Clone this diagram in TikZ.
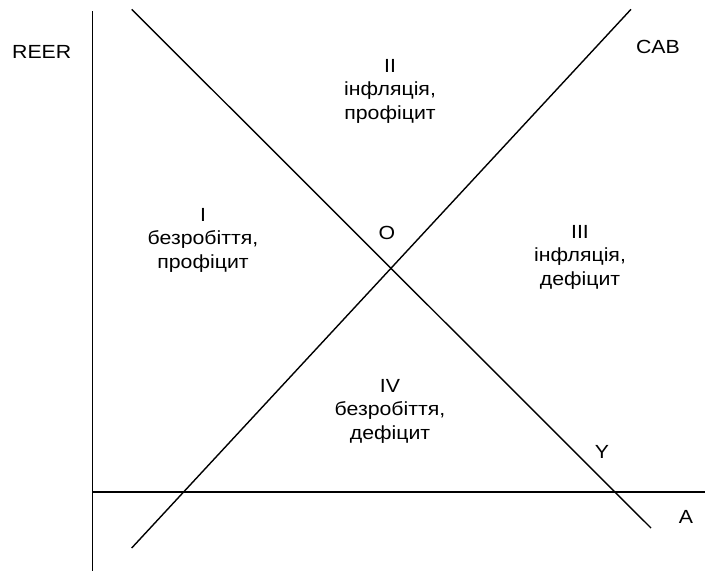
\documentclass[tikz,border=0pt]{standalone}
\usepackage{fontspec}
\setmainfont[FakeStretch=1.12]{Liberation Sans}
\tikzset{
  axis/.style={line width=1.7pt},
  curve/.style={line width=1.4pt},
  lbl/.style={font=\fontsize{19}{23.5}\selectfont, inner sep=0pt, align=center}
}
\begin{document}
\begin{tikzpicture}[x=1pt,y=-1pt]
\useasboundingbox (0,0) rectangle (705,571);
% axes
\coordinate (vt) at (92.5,11);
\coordinate (vb) at (92.5,571);
\coordinate (hl) at (92.5,492);
\coordinate (hr) at (705,492);
\draw[axis] (vt) -- (vb);
\draw[axis] (hl) -- (hr);
% lines
\coordinate (ys) at (131.7,9.3);
\coordinate (ye) at (651,528);
\coordinate (cs) at (131.7,548);
\coordinate (ce) at (631,9.3);
\draw[curve] (ys) -- (ye);
\draw[curve] (cs) -- (ce);
% labels
\node[lbl] (reer) at (41.7,51.7) {REER};
\node[lbl] (cab) at (658,46.7) {CAB};
\node[lbl] (o) at (387,233) {O};
\node[lbl] (y) at (602,452) {Y};
\node[lbl] (a) at (686,517) {A};
\node[lbl, anchor=north] (q2) at (390,59) {II\\інфляція,\\профіцит};
\node[lbl, anchor=north] (q1) at (203,208) {I\\безробіття,\\профіцит};
\node[lbl, anchor=north] (q3) at (580,225) {III\\інфляція,\\дефіцит};
\node[lbl, anchor=north] (q4) at (390,379) {IV\\безробіття,\\дефіцит};
\end{tikzpicture}
\end{document}
